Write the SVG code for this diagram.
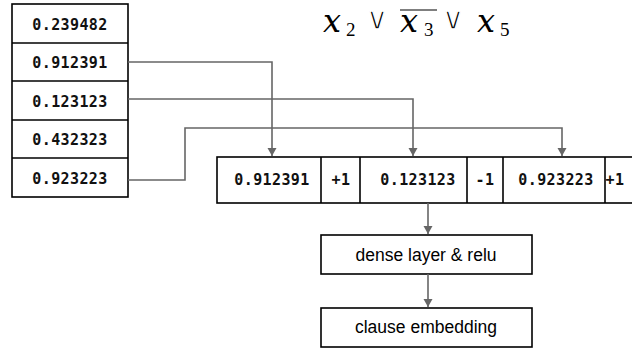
<svg xmlns="http://www.w3.org/2000/svg" width="632" height="348" viewBox="0 0 632 348">
<defs>
<marker id="ah" markerWidth="10" markerHeight="10" refX="8" refY="5" orient="auto" markerUnits="userSpaceOnUse" viewBox="0 0 10 10">
<path d="M0,0.5 L8,5 L0,9.5 Z" fill="#666"/>
</marker>
</defs>
<style>
.box{fill:#fff;stroke:#000;stroke-width:1.6}
.div{stroke:#000;stroke-width:1.6}
.mono{font-family:"DejaVu Sans Mono","Liberation Mono",monospace;font-size:15px;font-weight:bold;letter-spacing:0.4px;text-anchor:middle;fill:#111}
.sans{font-family:"Liberation Sans",Arial,sans-serif;font-size:17.5px;text-anchor:middle;fill:#000}
.conn{fill:none;stroke:#666;stroke-width:1.6}
.mx{font-family:"DejaVu Serif","Liberation Serif",serif;font-style:italic;font-size:32px;fill:#000}
.sub{font-family:"Liberation Serif","DejaVu Serif",serif;font-size:19px;fill:#000}
.or{font-family:"DejaVu Sans",sans-serif;font-size:31px;text-anchor:middle;fill:#000;stroke:#fff;stroke-width:1.3}
</style>
<g id="input-vector">
<rect class="box" x="12" y="4" width="116" height="193"/>
<line class="div" x1="12" y1="43" x2="128" y2="43"/>
<line class="div" x1="12" y1="81" x2="128" y2="81"/>
<line class="div" x1="12" y1="120" x2="128" y2="120"/>
<line class="div" x1="12" y1="158" x2="128" y2="158"/>
<text class="mono" x="70" y="30">0.239482</text>
<text class="mono" x="70" y="68">0.912391</text>
<text class="mono" x="70" y="107">0.123123</text>
<text class="mono" x="70" y="145">0.432323</text>
<text class="mono" x="70" y="184">0.923223</text>
</g>
<g id="formula">
<text class="mx" x="323" y="32">x</text>
<text class="sub" x="346" y="36">2</text>
<text class="or" x="377" y="29">∨</text>
<text class="mx" x="400" y="32">x</text>
<text class="sub" x="424" y="36">3</text>
<line x1="400" y1="10" x2="437" y2="10" stroke="#000" stroke-width="1.2"/>
<text class="or" x="453" y="29">∨</text>
<text class="mx" x="477" y="32">x</text>
<text class="sub" x="500" y="36">5</text>
</g>
<g id="clause-vector">
<rect class="box" x="217" y="157" width="420" height="46"/>
<line class="div" x1="321" y1="157" x2="321" y2="203"/>
<line class="div" x1="360" y1="157" x2="360" y2="203"/>
<line class="div" x1="467" y1="157" x2="467" y2="203"/>
<line class="div" x1="503" y1="157" x2="503" y2="203"/>
<line class="div" x1="605" y1="157" x2="605" y2="203"/>
<text class="mono" x="272" y="185">0.912391</text>
<text class="mono" x="341" y="185">+1</text>
<text class="mono" x="418" y="185">0.123123</text>
<text class="mono" x="485" y="185">-1</text>
<text class="mono" x="556" y="185">0.923223</text>
<text class="mono" x="615" y="185" text-anchor="start">+1</text>
</g>
<g id="dense-layer">
<rect class="box" x="321" y="235" width="211" height="39"/>
<text class="sans" x="426" y="261">dense layer &amp; relu</text>
</g>
<g id="clause-embedding">
<rect class="box" x="321" y="308" width="211" height="39"/>
<text class="sans" x="426" y="333">clause embedding</text>
</g>
<g id="connectors">
<path class="conn" d="M128,62 H272 V156" marker-end="url(#ah)"/>
<path class="conn" d="M128,99 H413 V156" marker-end="url(#ah)"/>
<path class="conn" d="M128,180 H185 V128 H562 V156" marker-end="url(#ah)"/>
<path class="conn" d="M428,203 V234" marker-end="url(#ah)"/>
<path class="conn" d="M428,274 V307" marker-end="url(#ah)"/>
</g>
</svg>
